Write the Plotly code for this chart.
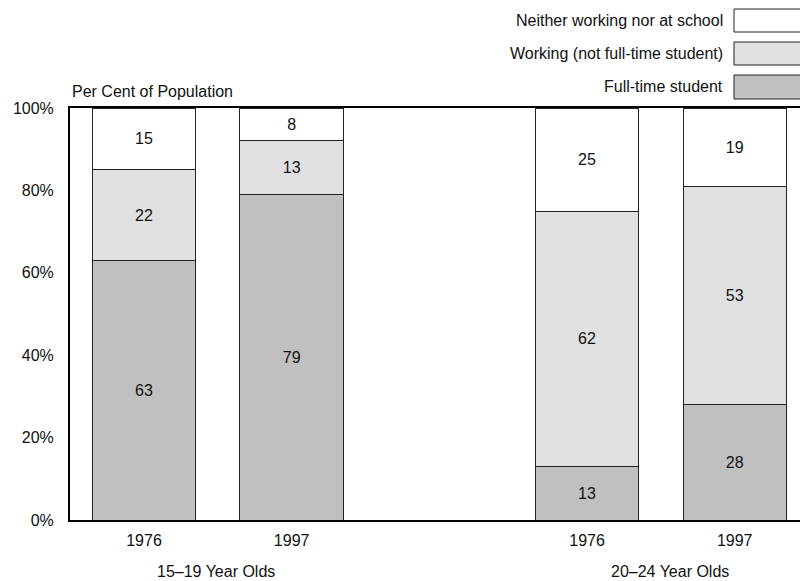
import plotly.graph_objects as go

# Data: share of population by activity (per cent)
years = ["1976", "1997", "1976", "1997"]
positions = [0, 1, 3, 4]
age_groups = ["15–19 Year Olds", "20–24 Year Olds"]
group_centres = [0.49, 3.56]

full_time_student = [63, 79, 13, 28]
working = [22, 13, 62, 53]
neither = [15, 8, 25, 19]

series_names = ["Full-time student", "Working (not full-time student)",
                "Neither working nor at school"]
series_values = [full_time_student, working, neither]
series_colors = ["#c0c0c0", "#e0e0e0", "#ffffff"]

y_ticks = [0, 20, 40, 60, 80, 100]
y_tick_labels = ["0%", "20%", "40%", "60%", "80%", "100%"]

W, H = 800, 581
L, R, T, B = 70, 0, 108, 61
PW, PH = W - L - R, H - T - B
FONT = "Liberation Sans, Arial, Helvetica, sans-serif"
TXT = "#111111"
EDGE = "#222222"


def px_x(p):
    return (p - L) / PW


def px_y(p):
    return (H - B - p) / PH


fig = go.Figure()
for name, vals, col in zip(series_names, series_values, series_colors):
    fig.add_trace(go.Bar(
        name=name, x=positions, y=vals, width=0.70,
        marker=dict(color=col, line=dict(color=EDGE, width=1)),
        text=[str(v) for v in vals], textposition="inside",
        insidetextanchor="middle", textangle=0,
        textfont=dict(size=16, color=TXT, family=FONT),
        constraintext="none", showlegend=False, hoverinfo="skip",
    ))

annotations = [
    dict(text="Per Cent of Population", x=px_x(70), y=px_y(91.5),
         xref="paper", yref="paper", xanchor="left", yanchor="middle",
         showarrow=False, font=dict(size=16, color=TXT, family=FONT)),
]
for label, xc in zip(age_groups, group_centres):
    annotations.append(dict(text=label, x=xc, y=px_y(571), xref="x", yref="paper",
                            xanchor="center", yanchor="middle", showarrow=False,
                            font=dict(size=16, color=TXT, family=FONT)))

# Legend key: boxes on the right with right-aligned labels
legend_rows = [(9, 32), (42, 65), (75, 99)]
legend_order = [2, 1, 0]
shapes = []
for (y0, y1), idx in zip(legend_rows, legend_order):
    shapes.append(dict(type="rect", xref="paper", yref="paper",
                       x0=px_x(734), x1=px_x(830), y0=px_y(y1), y1=px_y(y0),
                       fillcolor=series_colors[idx], line=dict(color=EDGE, width=1)))
    annotations.append(dict(text=series_names[idx], x=px_x(725), y=px_y((y0 + y1) / 2),
                            xref="paper", yref="paper", xanchor="right", yanchor="middle",
                            showarrow=False, font=dict(size=16, color=TXT, family=FONT)))

fig.update_layout(
    width=W, height=H, barmode="stack",
    margin=dict(l=L, r=R, t=T, b=B, pad=0),
    plot_bgcolor="white", paper_bgcolor="white",
    font=dict(family=FONT, size=16, color=TXT),
    annotations=annotations, shapes=shapes,
    xaxis=dict(range=[-0.501, 4.442], tickvals=positions, ticktext=years,
               showline=True, linecolor="black", linewidth=2, mirror=True,
               showgrid=False, zeroline=False, ticks="", ticklabelstandoff=5,
               fixedrange=True),
    yaxis=dict(range=[0, 100], tickvals=y_ticks, ticktext=y_tick_labels,
               showline=True, linecolor="black", linewidth=2,
               showgrid=False, zeroline=False, ticks="", ticklabelstandoff=11,
               fixedrange=True),
)

fig.write_html("out.html")
